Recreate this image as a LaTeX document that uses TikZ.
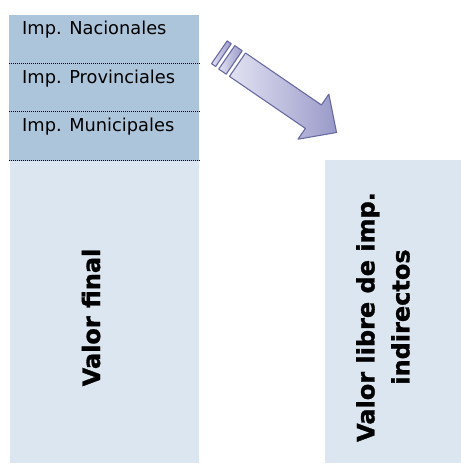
\documentclass[tikz,border=0pt]{standalone}
\usepackage{fontspec}
\setmainfont[BoldFeatures={FakeBold=1.2}]{DejaVu Sans}
\definecolor{darkbox}{HTML}{ADC5DA}
\definecolor{lightbox}{HTML}{DCE6F0}
\definecolor{arrowedge}{HTML}{6A6AA2}
\definecolor{arrowlight}{HTML}{E2E2F2}
\definecolor{arrowdark}{HTML}{9A9ACA}
\tikzset{
  taxlabel/.style={anchor=base west, inner sep=0pt, font=\fontsize{17.8}{20}\selectfont},
  sepline/.style={draw=black, line width=1.5pt, dash pattern=on 1pt off 1pt},
  vlabel/.style={rotate=90, inner sep=0pt, font=\bfseries\fontsize{24}{35}\selectfont, align=center},
  arrowpart/.style={draw=arrowedge, line width=1.1pt, line join=round, left color=arrowlight, right color=arrowdark}
}
\begin{document}
\begin{tikzpicture}[x=1pt,y=-1pt]
\useasboundingbox (0,0) rectangle (461,464);
% left column
\fill[lightbox] (9.5,160) rectangle (199,463);
\fill[darkbox] (9,15) rectangle (199,161);
% right column
\fill[lightbox] (325,160) rectangle (461,463);
% separators
\coordinate (s1a) at (9,63.5);  \coordinate (s1b) at (200.5,63.5);
\coordinate (s2a) at (9,111.5); \coordinate (s2b) at (200.5,111.5);
\coordinate (s3a) at (9,160.5); \coordinate (s3b) at (200.5,160.5);
\draw[sepline] (s1a) -- (s1b);
\draw[sepline] (s2a) -- (s2b);
\draw[sepline] (s3a) -- (s3b);
% labels
\node[taxlabel] (nac) at (22,34.3) {Imp. Nacionales};
\node[taxlabel] (prov) at (22,83.3) {Imp. Provinciales};
\node[taxlabel] (mun) at (22,131) {Imp. Municipales};
\node[vlabel, anchor=base] (vf) at (100,317.5) {Valor final};
\node[vlabel] (vl) at (383,317) {Valor libre de imp.\\indirectos};
% arrow
\begin{scope}[shift={(237.5,64.7)}, rotate=-34.4]
\path[arrowpart] (-22,-13.8) -- (-17,-13.8) -- (-17,13.8) -- (-22,13.8) -- cycle;
\path[arrowpart] (-13,-14.2) -- (-4,-14.2) -- (-4,14.2) -- (-13,14.2) -- cycle;
\path[arrowpart] (0,-14.2) -- (92,-14.2) -- (92,-27.3) -- (120,0) -- (92,27.3) -- (92,14.2) -- (0,14.2) -- cycle;
\end{scope}
\end{tikzpicture}
\end{document}
